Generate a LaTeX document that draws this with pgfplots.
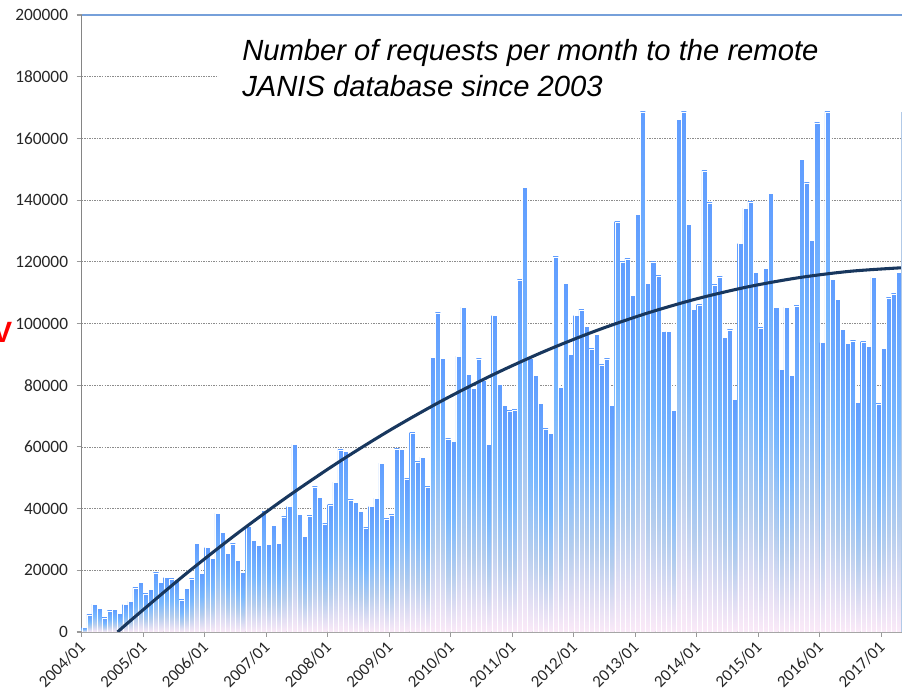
\documentclass[border=0pt]{standalone}
\usepackage{pgfplots}
\usepackage{pgfplotstable}
\pgfplotsset{compat=1.18}
\usepackage{fontspec}
\setmainfont{Carlito}
\newfontfamily\arialfont{Liberation Sans}
\definecolor{bluetop}{RGB}{96,157,255}
\definecolor{lightblue}{RGB}{120,184,255}
\definecolor{greyblue}{RGB}{180,205,238}
\definecolor{lav}{RGB}{224,222,243}
\definecolor{pinkbot}{RGB}{251,234,248}
\definecolor{trendnavy}{RGB}{24,55,94}
\definecolor{topblue}{RGB}{118,160,218}
\definecolor{rightblue}{RGB}{178,202,232}
\pgfdeclareverticalshading{barshade}{100bp}{color(0bp)=(pinkbot); color(25bp)=(pinkbot); color(31bp)=(lav); color(40bp)=(greyblue); color(55bp)=(lightblue); color(75bp)=(bluetop); color(100bp)=(bluetop)}

\pgfplotstableread{
m v
0 1500
1 5600
2 8900
3 7600
4 4600
5 6900
6 7300
7 6000
8 8900
9 9900
10 14300
11 16000
12 12400
13 13900
14 19200
15 16100
16 17700
17 17200
18 17000
19 10400
20 14200
21 17200
22 28700
23 19100
24 27400
25 23900
26 38500
27 32200
28 25500
29 28600
30 23300
31 19300
32 34300
33 29800
34 28000
35 39400
36 28500
37 34500
38 28700
39 37300
40 40800
41 60800
42 38100
43 31000
44 37600
45 47100
46 43600
47 35100
48 41200
49 48600
50 59000
51 58600
52 42800
53 42100
54 39100
55 33800
56 40800
57 43300
58 54600
59 36700
60 38000
61 59400
62 59200
63 49600
64 64600
65 55200
66 56700
67 47000
68 89000
69 103500
70 88800
71 62600
72 61800
73 89400
74 105300
75 83500
76 79000
77 88500
78 81700
79 60900
80 102600
81 80200
82 73400
83 71700
84 72000
85 114200
86 144200
87 88600
88 83200
89 74100
90 65800
91 64500
92 121600
93 79200
94 113000
95 90000
96 102700
97 104400
98 99100
99 91800
100 96400
101 86600
102 88500
103 73400
104 132900
105 120000
106 121000
107 109100
108 135300
109 168600
110 113100
111 120000
112 115400
113 97500
114 97500
115 71800
116 166200
117 168600
118 132100
119 104500
120 106100
121 149500
122 139100
123 112500
124 115100
125 95500
126 97900
127 75500
128 125900
129 137400
130 139400
131 116500
132 98600
133 117800
134 142200
135 105200
136 85100
137 105200
138 83100
139 105700
140 153300
141 145600
142 126900
143 165000
144 93800
145 168600
146 114400
147 107800
148 98100
149 93600
150 94400
151 74500
152 94100
153 92600
154 114900
155 74000
156 92000
157 108300
158 109600
159 116500
}\datatable

\pgfplotstableread{
x v
6.5 0
9.5 4385
19.5 18404
29.5 31503
39.5 43682
49.5 54941
59.5 65280
69.5 74699
79.5 83198
89.5 90777
99.5 97436
109.5 103175
119.5 107994
129.5 111893
139.5 114872
149.5 116931
159.5 118070
}\trendtable

\begin{document}
\begin{tikzpicture}
\path[use as bounding box] (-61.3pt,-44.25pt) rectangle (616.7pt,474pt);
\begin{axis}[
  at={(0pt,0pt)}, anchor=south west,
  scale only axis, width=615pt, height=462.75pt,
  xmin=-0.5, xmax=159.5, ymin=0, ymax=200000,
  axis x line*=bottom, axis y line*=left,
  x axis line style={-, draw=black!35, line width=1.1pt},
  y axis line style={-, draw=black!48, line width=0.8pt},
  xtick={-0.5,11.5,...,155.5},
  xticklabels={2004/01,2005/01,2006/01,2007/01,2008/01,2009/01,2010/01,2011/01,2012/01,2013/01,2014/01,2015/01,2016/01,2017/01},
  ytick={0,20000,...,200000},
  tick align=outside, major tick length=3.75pt,
  tick style={draw=black!40, line width=0.8pt},
  xticklabel style={rotate=45, anchor=north east, font=\fontsize{12.6}{15}\selectfont, text=black!85, inner sep=0.8pt, xshift=-2.5pt, yshift=1.5pt},
  yticklabel style={font=\fontsize{13}{15}\selectfont, text=black!85, xshift=-3pt, /pgf/number format/fixed, /pgf/number format/1000 sep={}, /pgf/number format/assume math mode=true},
  scaled y ticks=false,
  ymajorgrids,
  grid style={dash pattern=on 1.1pt off 0.8pt, draw=black!45, line width=0.5pt},
  clip mode=individual,
]
\pgfplotsinvokeforeach{0,...,159}{
  \addplot[ybar, bar width=1, bar shift=0pt, draw=white, line width=0.25pt, shading=barshade, restrict expr to domain={\coordindex-#1}{-0.2:0.2}] table[x=m, y=v] {\datatable};
}
\addplot[trendnavy, line width=2.3pt, smooth, no marks] table[x=x, y=v] {\trendtable};
\fill[white] (rel axis cs:0.168,0.8443) rectangle (rel axis cs:1.003,0.992);
\draw[topblue, line width=0.9pt] (rel axis cs:0,1) -- (rel axis cs:1,1);
\draw[rightblue, line width=1pt] (rel axis cs:1,0) -- (axis cs:159.5,168600);
\node[anchor=base west, font=\arialfont\itshape\fontsize{21.9}{27}\selectfont, inner sep=0pt] at (rel axis cs:0.1955,0.927) {Number of requests per month to the remote};
\node[anchor=base west, font=\arialfont\itshape\fontsize{21.9}{27}\selectfont, inner sep=0pt] at (rel axis cs:0.1955,0.8687) {JANIS database since 2003};
\end{axis}
\node[text=red, font=\arialfont\bfseries\fontsize{22}{22}\selectfont, anchor=east, inner sep=0pt] at (-52pt,225pt) {V};
\end{tikzpicture}
\end{document}
